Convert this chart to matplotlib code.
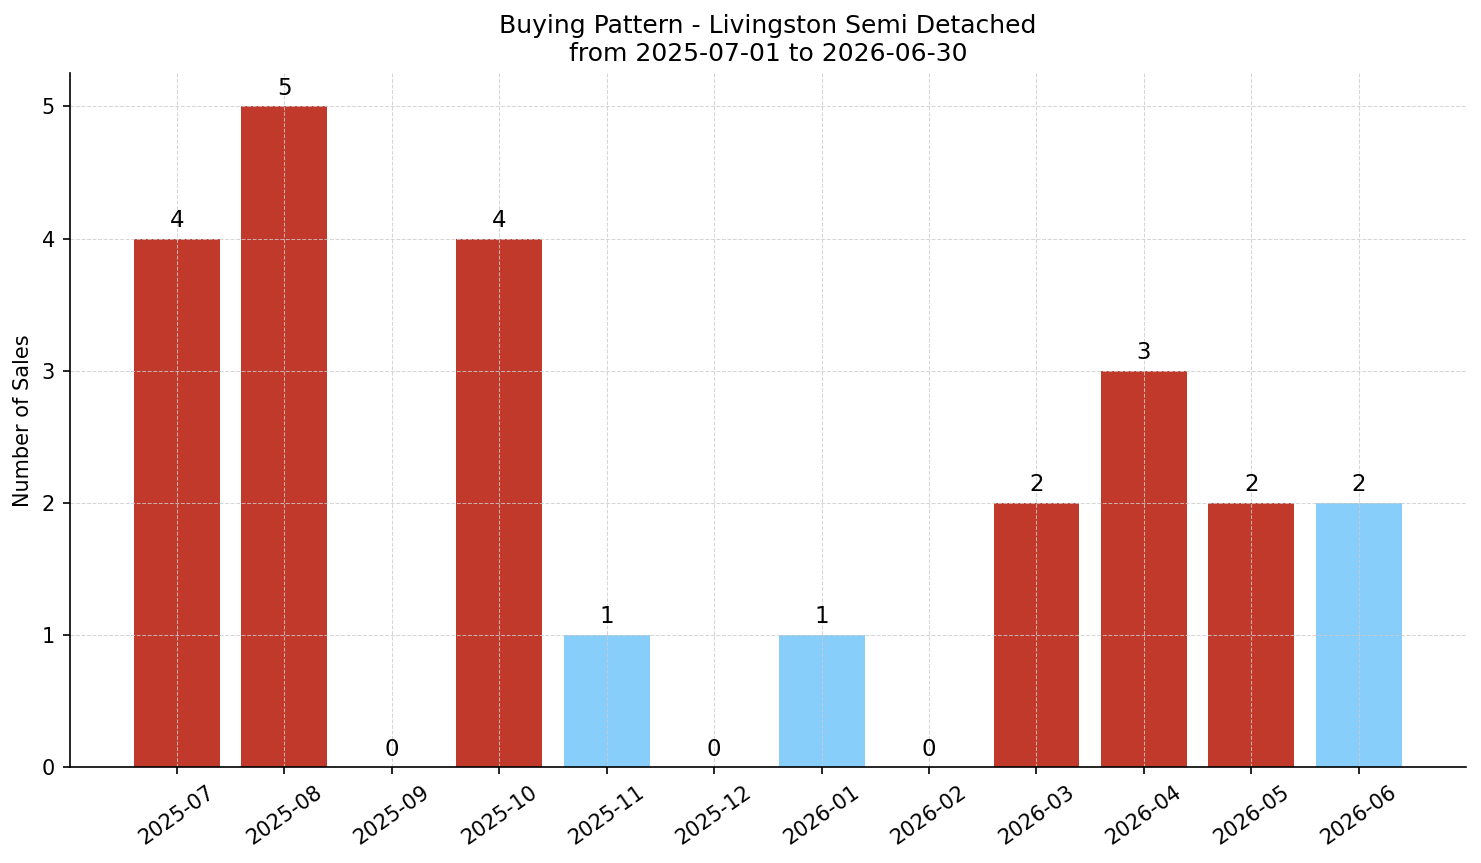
import matplotlib
matplotlib.use("Agg")
import matplotlib.pyplot as plt
import numpy as np

months = ["2025-07", "2025-08", "2025-09", "2025-10", "2025-11", "2025-12",
          "2026-01", "2026-02", "2026-03", "2026-04", "2026-05", "2026-06"]
sales = [4, 5, 0, 4, 1, 0, 1, 0, 2, 3, 2, 2]
# red = busy months, blue = quiet months
high = [True, True, True, True, False, True, False, True, True, True, True, False]

RED = '#c0392b'
BLUE = '#87cefa'

fig, ax = plt.subplots(figsize=(1481/150, 863/150), dpi=150)
x = np.arange(len(months))
bar_colors = [RED if h else BLUE for h in high]
ax.bar(x, sales, width=0.8, color=bar_colors)

for xi, v in zip(x, sales):
    ax.text(xi, v + 0.05, str(v), ha='center', va='bottom', fontsize=11)

ax.set_xticks(x)
ax.set_xticklabels(months, rotation=35, fontsize=10)
ax.tick_params(axis='y', labelsize=10)
ax.set_xlim(-1, 12)
ax.set_ylim(0, 5.25)
ax.set_yticks(range(0, 6))
ax.set_ylabel("Number of Sales", fontsize=10)
ax.set_title("Buying Pattern - Livingston Semi Detached\nfrom 2025-07-01 to 2026-06-30", fontsize=12)
ax.grid(True, ls='--', color='#cccccc', lw=0.5, alpha=0.8)
ax.spines['top'].set_visible(False)
ax.spines['right'].set_visible(False)

fig.subplots_adjust(left=0.047, right=0.99, top=0.915, bottom=0.111)
fig.savefig("out.png", dpi=150)
